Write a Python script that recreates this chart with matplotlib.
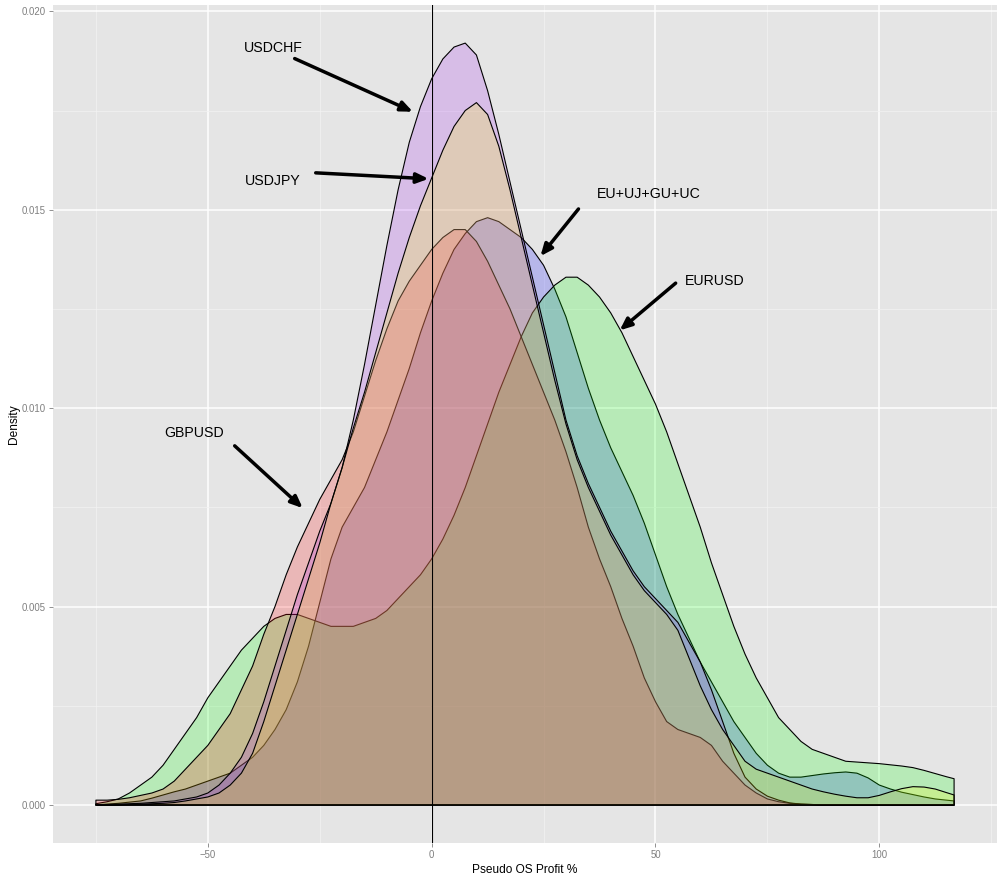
import numpy as np
import matplotlib
matplotlib.use("Agg")
import matplotlib.pyplot as plt
from matplotlib.colors import to_rgba
from matplotlib.ticker import FormatStrFormatter

plt.rcParams['font.family'] = ['Liberation Sans', 'DejaVu Sans']

# profit grid the densities were read at (%)
profit = [-75, -72.5, -70, -67.5, -65, -62.5, -60, -57.5, -55, -52.5,
          -50, -47.5, -45, -42.5, -40, -37.5, -35, -32.5, -30, -27.5,
          -25, -22.5, -20, -17.5, -15, -12.5, -10, -7.5, -5, -2.5,
          0, 2.5, 5, 7.5, 10, 12.5, 15, 17.5, 20, 22.5,
          25, 27.5, 30, 32.5, 35, 37.5, 40, 42.5, 45, 47.5,
          50, 52.5, 55, 57.5, 60, 62.5, 65, 67.5, 70, 72.5,
          75, 77.5, 80, 82.5, 85, 87.5, 90, 92.5, 95, 97.5,
          100, 102.5, 105, 107.5, 110, 112.5, 115, 116.7]

# densities, one list per pair (same order as profit)
dens_combo = [0.0, 0.00002, 0.00004, 0.00007, 0.0001, 0.00017, 0.00025, 0.00033, 0.0004, 0.0005,
              0.0006, 0.0007, 0.0008, 0.0010, 0.0012, 0.0015, 0.0019, 0.0024, 0.0031, 0.0040,
              0.0051, 0.0062, 0.0070, 0.0075, 0.0080, 0.0087, 0.0094, 0.0102, 0.0110, 0.0119,
              0.0127, 0.0134, 0.0140, 0.0144, 0.0147, 0.0148, 0.0147, 0.0145, 0.0143, 0.0140,
              0.0136, 0.0130, 0.0123, 0.0114, 0.0105, 0.0097, 0.0090, 0.0084, 0.0078, 0.0071,
              0.0063, 0.0055, 0.0048, 0.0042, 0.0036, 0.0031, 0.0026, 0.0021, 0.0017, 0.0013,
              0.0010, 0.0008, 0.0007, 0.0007, 0.00074, 0.00078, 0.00081, 0.00083, 0.0008, 0.00068,
              0.0005, 0.0004, 0.00032, 0.00026, 0.0002, 0.00015, 0.00012, 0.0001]

dens_eurusd = [0.00003, 0.00008, 0.00015, 0.0003, 0.0005, 0.0007, 0.0010, 0.0014, 0.0018, 0.0022,
               0.0027, 0.0031, 0.0035, 0.0039, 0.0042, 0.0045, 0.0047, 0.0048, 0.0048, 0.0047,
               0.0046, 0.0045, 0.0045, 0.0045, 0.0046, 0.0047, 0.0049, 0.0052, 0.0055, 0.0058,
               0.0062, 0.0067, 0.0073, 0.0080, 0.0088, 0.0096, 0.0104, 0.0111, 0.0118, 0.0124,
               0.0128, 0.0131, 0.0133, 0.0133, 0.0131, 0.0128, 0.0124, 0.0119, 0.0113, 0.0107,
               0.0101, 0.0094, 0.0086, 0.0078, 0.0070, 0.0061, 0.0053, 0.0045, 0.0038, 0.0032,
               0.0027, 0.0022, 0.0019, 0.0016, 0.0014, 0.0013, 0.0012, 0.0011, 0.00108, 0.00106,
               0.00104, 0.00101, 0.00098, 0.00094, 0.00087, 0.00079, 0.00071, 0.00066]

dens_gbpusd = [0.00012, 0.00012, 0.00014, 0.00018, 0.00024, 0.0003, 0.0004, 0.0006, 0.0009, 0.0012,
               0.0015, 0.0019, 0.0023, 0.0029, 0.0035, 0.0043, 0.0050, 0.0058, 0.0065, 0.0071,
               0.0077, 0.0082, 0.0087, 0.0094, 0.0103, 0.0112, 0.0120, 0.0127, 0.0132, 0.0136,
               0.0140, 0.0143, 0.0145, 0.0145, 0.0142, 0.0137, 0.0131, 0.0125, 0.0118, 0.0111,
               0.0104, 0.0097, 0.0089, 0.0080, 0.0070, 0.0062, 0.0055, 0.0047, 0.0040, 0.0032,
               0.0026, 0.0021, 0.0019, 0.0018, 0.0017, 0.0015, 0.0011, 0.0008, 0.0005, 0.0003,
               0.00015, 0.00008, 0.00004, 0.00002, 0.00001, 0.0, 0.0, 0.0, 0.0, 0.0,
               0.0, 0.0, 0.0, 0.0, 0.0, 0.0, 0.0, 0.0]

dens_usdchf = [0.0, 0.00001, 0.00002, 0.00003, 0.00004, 0.00006, 0.00008, 0.0001, 0.00015, 0.0002,
               0.0003, 0.0005, 0.0008, 0.0012, 0.0018, 0.0026, 0.0035, 0.0044, 0.0053, 0.0061,
               0.0069, 0.0076, 0.0085, 0.0097, 0.0111, 0.0126, 0.0141, 0.0155, 0.0167, 0.0176,
               0.0183, 0.0188, 0.0191, 0.0192, 0.0189, 0.0180, 0.0169, 0.0157, 0.0145, 0.0133,
               0.0121, 0.0109, 0.0097, 0.0088, 0.0081, 0.0075, 0.0069, 0.0064, 0.0059, 0.0055,
               0.0052, 0.0049, 0.0046, 0.0041, 0.0036, 0.0029, 0.0021, 0.0013, 0.0007, 0.0004,
               0.00022, 0.00012, 0.00005, 0.00002, 0.00001, 0.0, 0.0, 0.0, 0.0, 0.0,
               0.0, 0.0, 0.0, 0.0, 0.0, 0.0, 0.0, 0.0]

dens_usdjpy = [0.0, 0.0, 0.0, 0.00001, 0.00002, 0.00003, 0.00004, 0.00006, 0.0001, 0.00015,
               0.0002, 0.0003, 0.0005, 0.0008, 0.0013, 0.0021, 0.0030, 0.0039, 0.0048, 0.0057,
               0.0066, 0.0076, 0.0085, 0.0095, 0.0104, 0.0114, 0.0124, 0.0134, 0.0143, 0.0151,
               0.0158, 0.0165, 0.0171, 0.0175, 0.0177, 0.0174, 0.0166, 0.0155, 0.0143, 0.0131,
               0.0119, 0.0107, 0.0096, 0.0087, 0.0080, 0.0074, 0.0068, 0.0063, 0.0058, 0.0054,
               0.0051, 0.0048, 0.0044, 0.0037, 0.0030, 0.0024, 0.0019, 0.0015, 0.0011, 0.0009,
               0.0008, 0.0007, 0.0006, 0.0005, 0.0004, 0.00033, 0.00027, 0.00022, 0.00018, 0.00018,
               0.00024, 0.00033, 0.00041, 0.00046, 0.00045, 0.0004, 0.00031, 0.00025]

pairs = ['EU+UJ+GU+UC', 'EURUSD', 'GBPUSD', 'USDCHF', 'USDJPY']
densities = [dens_combo, dens_eurusd, dens_gbpusd, dens_usdchf, dens_usdjpy]
# R colour names: blue, green, red, purple, yellow
fills = ['#0000FF', '#00FF00', '#FF0000', '#A020F0', '#FFFF00']

# annotation: label position, arrow tail, arrow head (data coords)
notes = {
    'USDCHF':      ((-35.3, 0.01907), (-30.6, 0.01881), (-4.2, 0.01747)),
    'USDJPY':      ((-35.5, 0.01573), (-25.9, 0.01593), (-0.7, 0.01578)),
    'EU+UJ+GU+UC': ((48.4, 0.01540), (32.8, 0.01502), (24.3, 0.01383)),
    'EURUSD':      ((63.2, 0.01320), (54.5, 0.01315), (42.0, 0.01196)),
    'GBPUSD':      ((-53.1, 0.00938), (-44.0, 0.00905), (-28.8, 0.00748)),
}

fig = plt.figure(figsize=(10.04, 8.8), dpi=100)
ax = fig.add_axes([53/1004, 37/880, 944/1004, 838/880])
ax.set_facecolor('#E5E5E5')

x = np.array(profit)
for name, d, col in zip(pairs, densities, fills):
    y = np.array(d)
    ax.fill(np.r_[x, x[-1], x[0]], np.r_[y, 0, 0],
            facecolor=to_rgba(col, 0.2), edgecolor='black', lw=0.8,
            joinstyle='round', zorder=2)

ax.axvline(0, color='black', lw=0.8, zorder=3)

for lab, (txt, tail, head) in notes.items():
    ax.text(txt[0], txt[1], lab, fontsize=10.2, ha='center', va='center', zorder=4)
    ax.annotate('', xy=head, xytext=tail, zorder=4,
                arrowprops=dict(arrowstyle='-|>,head_length=0.7,head_width=0.3',
                                color='black', lw=2.5, shrinkA=0, shrinkB=0))

# ggplot-like expansion of 5%
xr = x.max() - x.min()
ax.set_xlim(x.min() - 0.05 * xr, x.max() + 0.05 * xr)
ymax = max(max(d) for d in densities)
ax.set_ylim(-0.05 * ymax, ymax * 1.05)

ax.set_xticks([-50, 0, 50, 100])
ax.set_xticks([-75, -25, 25, 75, 125], minor=True)
ax.set_yticks([0, 0.005, 0.010, 0.015, 0.020])
ax.set_yticks([0.0025, 0.0075, 0.0125, 0.0175], minor=True)
ax.yaxis.set_major_formatter(FormatStrFormatter('%.3f'))
ax.set_axisbelow(True)
ax.grid(which='major', color='white', lw=1.1)
ax.grid(which='minor', color='#F2F2F2', lw=0.55)
ax.tick_params(which='major', color='#7F7F7F', labelcolor='#7F7F7F',
               length=3.2, width=0.6, labelsize=6.9, pad=2)
ax.tick_params(which='minor', length=0)
for s in ax.spines.values():
    s.set_visible(False)

ax.set_xlabel('Pseudo OS Profit %', fontsize=8.6, labelpad=3)
ax.set_ylabel('Density', fontsize=8.6, labelpad=1)

fig.savefig('out.png', dpi=100, facecolor='white')
